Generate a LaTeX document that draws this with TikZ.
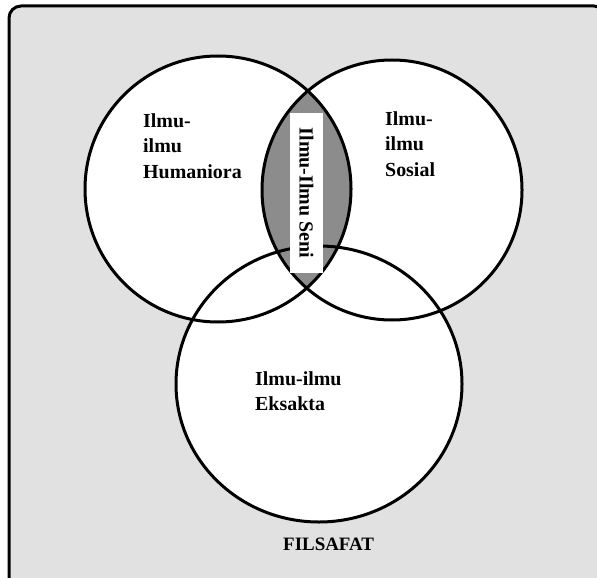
\documentclass[tikz,border=0pt]{standalone}
\usepackage{fontspec}
\setmainfont{Liberation Serif}
\definecolor{bggray}{HTML}{E1E1E1}
\definecolor{lensgray}{HTML}{8C8C8C}
\begin{document}
\begin{tikzpicture}[x=1bp,y=-1bp,
  lbl/.style={font=\fontsize{20}{26}\selectfont\bfseries, align=left, inner sep=0pt, anchor=north west},
  ring/.style={draw=black, line width=3bp}]
\useasboundingbox (0,0) rectangle (597,578);
\begin{scope}
\clip (0,0) rectangle (597,578);
\draw[fill=bggray, line width=3bp, rounded corners=12bp] (9,6) rectangle (606,590);
\end{scope}
% circle fills
\fill[white] (218,189) circle[radius=133];
\fill[white] (392,190) circle[radius=130];
\fill[white] (319,384) ellipse[x radius=143, y radius=138];
% lens
\begin{scope}
\clip (218,189) circle[radius=133];
\fill[lensgray] (392,190) circle[radius=130];
\end{scope}
% outlines
\draw[ring] (218,189) circle[radius=133];
\draw[ring] (392,190) circle[radius=130];
\draw[ring] (319,384) ellipse[x radius=143, y radius=138];
% art label
\node[fill=white, minimum width=33bp, minimum height=160bp, inner sep=0pt] (seni) at (306.5,193) {};
\node[font=\fontsize{20}{24}\selectfont\bfseries, rotate=-90, inner sep=0pt] (senit) at (seni.center) {Ilmu-Ilmu Seni};
% labels
\node[lbl] (hum) at (143,113) {Ilmu-\\ilmu\\Humaniora};
\node[lbl] (sos) at (385,111) {Ilmu-\\ilmu\\Sosial};
\node[lbl] (eks) at (255,371) {Ilmu-ilmu\\Eksakta};
\node[font=\fontsize{19}{22}\selectfont\bfseries, anchor=base west, inner sep=0pt] (fil) at (283,550) {FILSAFAT};
\end{tikzpicture}
\end{document}
